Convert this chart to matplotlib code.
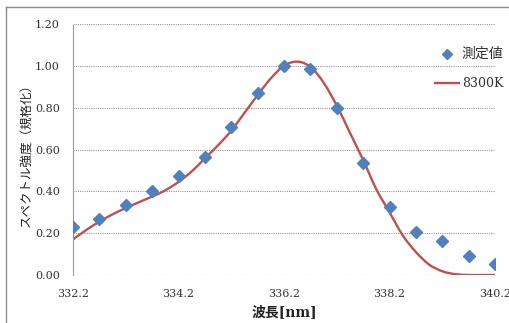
import matplotlib
matplotlib.use("Agg")
import matplotlib.pyplot as plt
from matplotlib.lines import Line2D
from matplotlib.path import Path
from matplotlib.patches import PathPatch

plt.rcParams['font.family'] = ['DejaVu Serif', 'Noto Sans CJK JP', 'DejaVu Sans']

# measured spectrum (normalised)
wl_meas = [332.2, 332.7, 333.2, 333.7, 334.2, 334.7, 335.2, 335.7, 336.2,
           336.7, 337.2, 337.7, 338.2, 338.7, 339.2, 339.7, 340.2]
intensity_meas = [0.23, 0.27, 0.333, 0.40, 0.475, 0.566, 0.706, 0.872, 1.00,
                  0.987, 0.80, 0.537, 0.325, 0.207, 0.163, 0.092, 0.054]

# simulated spectrum at 8300 K
wl_fit = [332.2, 332.45, 332.7, 332.95, 333.2, 333.45, 333.7, 333.95, 334.2,
          334.45, 334.7, 334.95, 335.2, 335.45, 335.7, 335.95, 336.2, 336.45,
          336.7, 336.95, 337.2, 337.45, 337.7, 337.95, 338.2, 338.45, 338.7,
          338.95, 339.2, 339.45, 339.7, 339.95, 340.2]
intensity_fit = [0.17, 0.215, 0.255, 0.29, 0.32, 0.348, 0.375, 0.405, 0.445,
                 0.495, 0.558, 0.62, 0.69, 0.775, 0.86, 0.94, 1.00, 1.02,
                 0.995, 0.92, 0.81, 0.68, 0.55, 0.41, 0.30, 0.19, 0.11,
                 0.05, 0.018, 0.004, 0.0, 0.0, 0.0]

x_ticks = [332.2, 334.2, 336.2, 338.2, 340.2]
y_ticks = [0.0, 0.2, 0.4, 0.6, 0.8, 1.0, 1.2]

LINE_COLOR = '#C0504D'
MARK_COLOR = '#4F81BD'


def smooth_path(xs, ys):
    """Smoothed line through the samples, drawn as cubic Bezier segments."""
    pts = list(zip(xs, ys))
    n = len(pts)
    verts = [pts[0]]
    codes = [Path.MOVETO]
    for i in range(n - 1):
        p0 = pts[i - 1] if i > 0 else pts[i]
        p1 = pts[i]
        p2 = pts[i + 1]
        p3 = pts[i + 2] if i + 2 < n else pts[i + 1]
        c1 = (p1[0] + (p2[0] - p0[0]) / 6, p1[1] + (p2[1] - p0[1]) / 6)
        c2 = (p2[0] - (p3[0] - p1[0]) / 6, p2[1] - (p3[1] - p1[1]) / 6)
        verts += [c1, c2, p2]
        codes += [Path.CURVE4] * 3
    return Path(verts, codes)


W, H = 509, 323
fig = plt.figure(figsize=(W / 100, H / 100), dpi=100)
ax = fig.add_axes([73 / W, 1 - 275 / H, (495 - 73) / W, (275 - 24) / H])

ax.plot(wl_meas, intensity_meas, linestyle='none', marker='D', markersize=6.3,
        color=MARK_COLOR, zorder=3)
ax.add_patch(PathPatch(smooth_path(wl_fit, intensity_fit), fill=False,
                       edgecolor=LINE_COLOR, linewidth=1.7, zorder=2,
                       capstyle='round', joinstyle='round'))

ax.set_xlim(332.2, 340.2)
ax.set_ylim(0, 1.2)
ax.set_xticks(x_ticks)
ax.set_xticklabels([f"{v:.1f}" for v in x_ticks])
ax.set_yticks(y_ticks)
ax.set_yticklabels([f"{v:.2f}" for v in y_ticks])
ax.tick_params(length=0, labelsize=8, colors='#333333')
ax.tick_params(axis='y', pad=9.5)
ax.tick_params(axis='x', pad=10)

ax.grid(axis='y', linestyle=(0, (1, 1)), color='#9a9a9a', linewidth=0.8)
for side in ['top', 'right', 'bottom']:
    ax.spines[side].set_visible(False)
ax.spines['left'].set_linestyle((0, (1, 1)))
ax.spines['left'].set_color('#9a9a9a')
ax.spines['left'].set_linewidth(0.8)
ax.set_axisbelow(True)

ax.set_ylabel('スペクトル強度（規格化）', fontsize=9, color='#222222')
ax.yaxis.set_label_coords(-0.095, 0.49)
ax.set_xlabel('波長[nm]', fontsize=10, fontweight='bold', color='#222222')
ax.xaxis.set_label_coords(0.502, -0.118)

handles = [
    Line2D([], [], linestyle='none', marker='D', markersize=5, color=MARK_COLOR),
    Line2D([], [], color=LINE_COLOR, linewidth=1.7),
]
leg = ax.legend(handles, ['測定値', '8300K'], loc='upper left',
                bbox_to_anchor=(435 / W, 1 - 47 / H),
                bbox_transform=fig.transFigure, frameon=False, fontsize=9,
                borderpad=0, borderaxespad=0, handlelength=1.9,
                handletextpad=0.25, labelspacing=1.3)
texts = leg.get_texts()
texts[0].set_fontsize(10)
for t in texts:
    t.set_color('#333333')

# chart frame
fig.add_artist(Line2D([6 / W, 6 / W], [0, 1 - 7 / H], transform=fig.transFigure,
                      color='#8c8c8c', linewidth=1))
fig.add_artist(Line2D([6 / W, 1], [1 - 7 / H, 1 - 7 / H], transform=fig.transFigure,
                      color='#8c8c8c', linewidth=1))

fig.savefig('out.png', dpi=100)
